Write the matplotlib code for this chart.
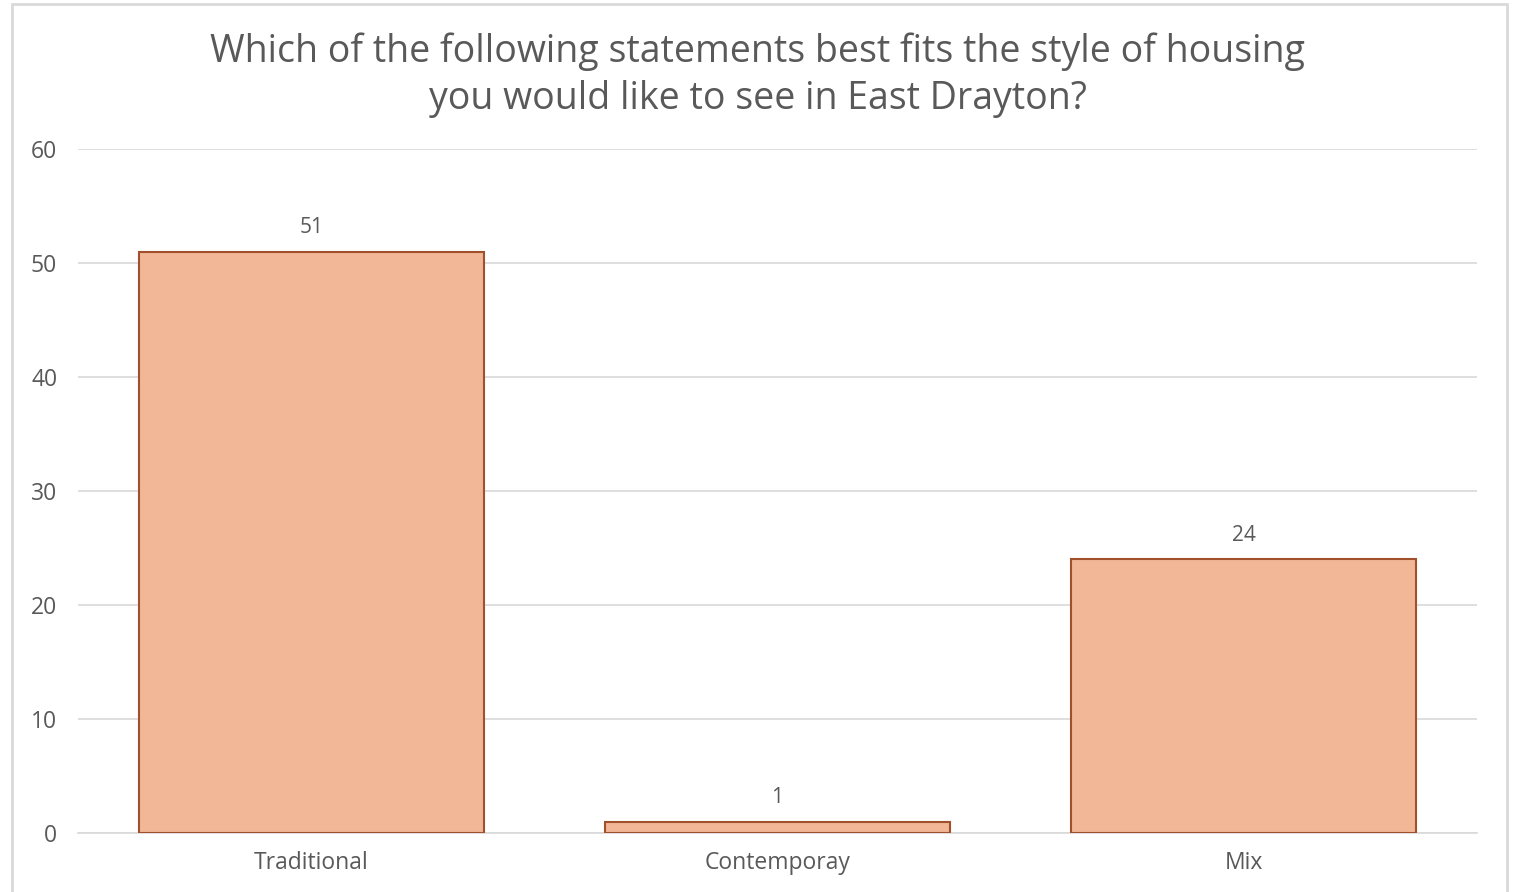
import matplotlib
matplotlib.use("Agg")
import matplotlib.pyplot as plt
from matplotlib.patches import Rectangle

# Données
categories = ["Traditional", "Contemporay", "Mix"]
counts = [51, 1, 24]
y_ticks = [0, 10, 20, 30, 40, 50, 60]
title = "Which of the following statements best fits the style of housing\nyou would like to see in East Drayton?"

text_color = "#595959"
grid_color = "#D9D9D9"
bar_color = "#F2B797"
edge_color = "#A0502A"

plt.rcParams["font.family"] = ["Open Sans", "DejaVu Sans"]

fig = plt.figure(figsize=(15.16, 8.92), dpi=100)
ax = fig.add_axes([78 / 1516, 1 - 833 / 892, (1477 - 78) / 1516, (833 - 149) / 892])

# Cadre du graphique
fig.patches.append(Rectangle((12 / 1516, -0.05), (1507 - 12) / 1516, 1 - 4 / 892 + 0.05,
                             transform=fig.transFigure, fill=False,
                             edgecolor=grid_color, linewidth=2))

x = range(len(categories))
bars = ax.bar(x, counts, width=0.74, color=bar_color, edgecolor=edge_color,
              linewidth=1.5, zorder=3)
for b, v in zip(bars, counts):
    ax.annotate(str(v), (b.get_x() + b.get_width() / 2, v), xytext=(0, 10),
                textcoords="offset points", ha="center", va="bottom",
                fontsize=15, color=text_color)

ax.set_xlim(-0.5, 2.5)
ax.set_ylim(0, 60)
ax.set_yticks(y_ticks)
ax.set_xticks(list(x))
ax.set_xticklabels(categories)
ax.tick_params(axis="both", length=0, labelsize=16.5, labelcolor=text_color)
ax.tick_params(axis="y", pad=15)
ax.tick_params(axis="x", pad=13)
ax.grid(axis="y", color=grid_color, linewidth=1.2, zorder=0)
for side in ["top", "right", "left"]:
    ax.spines[side].set_visible(False)
ax.spines["bottom"].set_color(grid_color)
ax.spines["bottom"].set_linewidth(1.2)

fig.text(0.5, 1 - 75 / 892, title, ha="center", va="center", fontsize=27,
         color=text_color, linespacing=1.3)

fig.savefig("out.png", dpi=100)
